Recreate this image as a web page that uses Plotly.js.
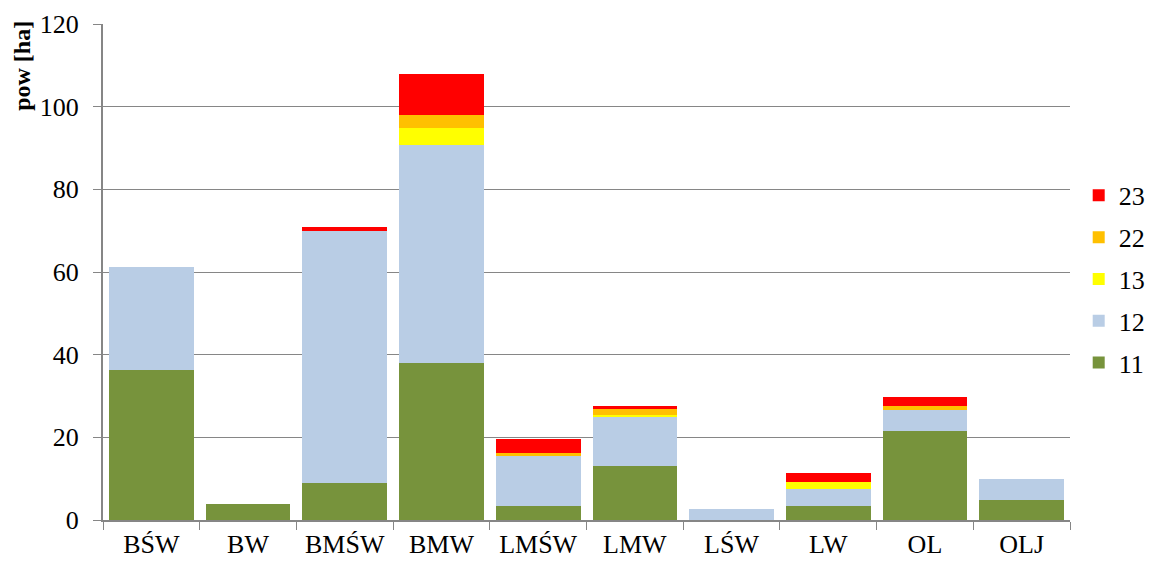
<!DOCTYPE html>
<html><head><meta charset="utf-8">
<script src="https://cdn.plot.ly/plotly-3.0.1.min.js"></script>
<style>html,body{margin:0;padding:0;background:#fff}</style>
</head><body>
<div id="chart" style="width:1158px;height:562px"></div>
<script>
const categories = ["BŚW","BW","BMŚW","BMW","LMŚW","LMW","LŚW","LW","OL","OLJ"];
const s11 = [36.2, 3.8, 8.9, 37.9, 3.3, 13.0, 0.0, 3.4, 21.5, 4.8];
const s12 = [25.1, 0.0, 61.1, 52.8, 12.2, 11.8, 2.6, 4.1, 5.0, 5.1];
const s13 = [0.0, 0.0, 0.0, 4.2, 0.0, 0.5, 0.0, 1.7, 0.0, 0.0];
const s22 = [0.0, 0.0, 0.0, 3.0, 0.7, 1.5, 0.0, 0.0, 1.2, 0.0];
const s23 = [0.0, 0.0, 0.8, 10.1, 3.3, 0.9, 0.0, 2.1, 2.0, 0.0];
const seriesNames = ["11","12","13","22","23"];
const seriesColors = ["#77933c","#b9cde5","#ffff00","#ffc000","#ff0000"];
const seriesData = [s11, s12, s13, s22, s23];
const yTitle = "pow [ha]";

const traces = seriesData.map((v,i)=>({
  type:'bar', x:categories, y:v, name:seriesNames[i], legendgroup:'g'+i,
  legendrank: seriesData.length - i,
  marker:{color:seriesColors[i], line:{width:0}},
  hoverinfo:'x+y+name'
}));

const font = "Liberation Serif, Times New Roman, serif";
const layout = {
  width:1158, height:562,
  margin:{l:103, r:88, t:24, b:42, autoexpand:false},
  barmode:'stack', bargap:0.124,
  paper_bgcolor:'#fff', plot_bgcolor:'#fff',
  font:{family:font, size:26, color:'#000'},
  xaxis:{
    type:'category', showline:true, linecolor:'#868686', linewidth:2,
    ticks:'outside', tickson:'boundaries', ticklen:8, tickcolor:'#868686', tickwidth:1,
    tickfont:{family:font, size:26}, showgrid:false, automargin:false
  },
  yaxis:{
    range:[0,120], dtick:20, showline:true, linecolor:'#868686', linewidth:2,
    ticks:'outside', ticklen:8, tickcolor:'#868686', tickwidth:1,
    gridcolor:'#868686', gridwidth:1, zeroline:false, automargin:false,
    ticklabelstandoff:9,
    tickfont:{family:font, size:26}
  },
  annotations:[{
    text:yTitle, textangle:-90, xref:'paper', yref:'paper',
    x:-0.084, y:1.01, xanchor:'center', yanchor:'top', showarrow:false,
    font:{family:font, size:24, weight:'bold', color:'#000'}
  }],
  legend:{
    x:1.009, xanchor:'left', y:0.485, yanchor:'middle',
    traceorder:'grouped', font:{family:font, size:26},
    itemwidth:30, tracegroupgap:5, bgcolor:'rgba(0,0,0,0)'
  },
  showlegend:true
};
Plotly.newPlot('chart', traces, layout, {displayModeBar:false});
</script>
</body></html>
